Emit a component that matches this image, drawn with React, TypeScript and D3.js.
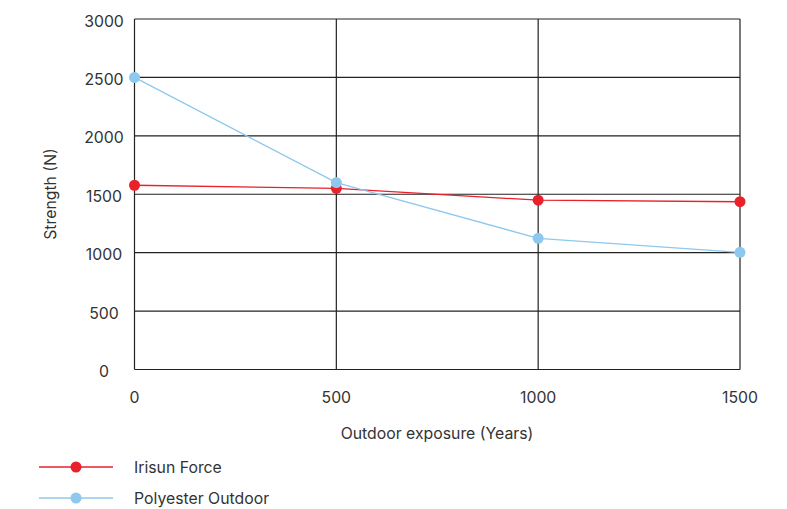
import React from "react";
import * as d3 from "d3";

const exposure = [0, 500, 1000, 1500];
const irisunForce = [1577, 1551, 1449, 1436];
const polyesterOutdoor = [2500, 1600, 1123, 1003];
const yTicks = [0, 500, 1000, 1500, 2000, 2500, 3000];
const xTicks = [0, 500, 1000, 1500];
const seriesNames = ["Irisun Force", "Polyester Outdoor"];
const seriesColors = ["#e8212b", "#8ec8ee"];

export default function App() {
  const W = 787, H = 509;
  const x = d3.scaleLinear().domain([0, 1500]).range([134.5, 740]);
  const y = d3.scaleLinear().domain([0, 3000]).range([369.5, 19]);
  const line = d3.line<number>().x((_, i) => x(exposure[i])).y((d) => y(d));
  const series = [irisunForce, polyesterOutdoor];
  const font = "Inter, 'Noto Sans', sans-serif";
  const fs = 15.8;
  return (
    <svg width={W} height={H} style={{ position: "absolute", left: 0, top: 0 }} fontFamily={font}>
      <rect width={W} height={H} fill="#fff" />
      {yTicks.map((t) => (
        <g key={"y" + t}>
          <line x1={x(0)} x2={x(1500)} y1={y(t)} y2={y(t)} stroke="#222" strokeWidth={1.2} />
          <text x={104} y={y(t) + 2} dy="0.35em" textAnchor="middle" fontSize={fs} fill="#333">{t}</text>
        </g>
      ))}
      {xTicks.map((t) => (
        <g key={"x" + t}>
          <line x1={x(t)} x2={x(t)} y1={y(0)} y2={y(3000)} stroke="#222" strokeWidth={1.2} />
          <text x={x(t)} y={397} dy="0.35em" textAnchor="middle" fontSize={fs} fill="#333">{t}</text>
        </g>
      ))}
      <text transform="translate(50,194) rotate(-90)" textAnchor="middle" dy="0.35em" fontSize={fs} fill="#333">Strength (N)</text>
      <text x={437} y={433} dy="0.35em" textAnchor="middle" fontSize={fs} fill="#333">Outdoor exposure (Years)</text>
      {series.map((s, k) => (
        <g key={"s" + k}>
          <path d={line(s) || ""} fill="none" stroke={seriesColors[k]} strokeWidth={1.3} />
          {s.map((v, i) => (
            <circle key={i} cx={x(exposure[i])} cy={y(v)} r={5.5} fill={seriesColors[k]} />
          ))}
        </g>
      ))}
      {seriesNames.map((n, k) => (
        <g key={"l" + k} transform={`translate(0,${467 + k * 31})`}>
          <line x1={39} x2={113} y1={0} y2={0} stroke={seriesColors[k]} strokeWidth={1.3} />
          <circle cx={76} cy={0} r={5.5} fill={seriesColors[k]} />
          <text x={134} y={0} dy="0.35em" fontSize={fs} fill="#333">{n}</text>
        </g>
      ))}
    </svg>
  );
}
